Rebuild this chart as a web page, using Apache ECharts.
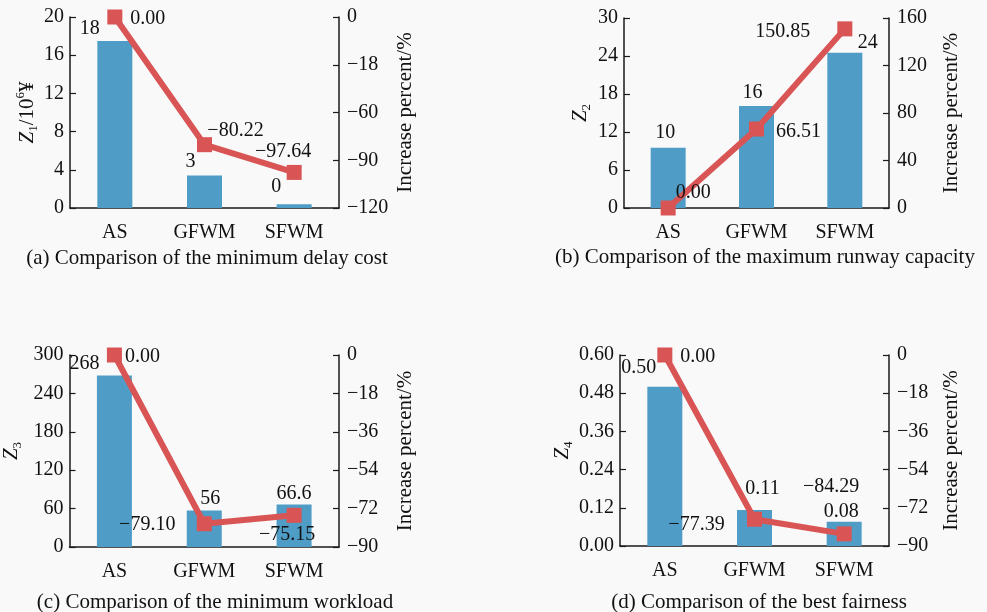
<!DOCTYPE html>
<html>
<head>
<meta charset="utf-8">
<script src="https://cdn.jsdelivr.net/npm/echarts@6/dist/echarts.min.js"></script>
<style>html,body{margin:0;padding:0;background:#f9f9f9;}#c{width:987px;height:612px;}</style>
</head>
<body>
<div id="c"></div>
<script>
// ---------- data ----------
var categories = ['AS', 'GFWM', 'SFWM'];

var barA = [17.5, 3.4, 0.4];
var barLabelsA = ['18', '3', '0'];
var lineA = [0.00, -80.22, -97.64];
var leftTicksA = ['0', '4', '8', '12', '16', '20'];
var rightTicksA = ['−120', '−90', '−60', '−18', '0'];

var barB = [9.5, 16.1, 24.5];
var barLabelsB = ['10', '16', '24'];
var lineB = [0.00, 66.51, 150.85];
var leftTicksB = ['0', '6', '12', '18', '24', '30'];
var rightTicksB = ['0', '40', '80', '120', '160'];

var barC = [268, 57, 66.6];
var barLabelsC = ['268', '56', '66.6'];
var lineC = [0.00, -79.10, -75.15];
var leftTicksC = ['0', '60', '120', '180', '240', '300'];
var rightTicksC = ['−90', '−72', '−54', '−36', '−18', '0'];

var barD = [0.50, 0.113, 0.076];
var barLabelsD = ['0.50', '0.11', '0.08'];
var lineD = [0.00, -77.39, -84.29];
var leftTicksD = ['0.00', '0.12', '0.24', '0.36', '0.48', '0.60'];
var rightTicksD = ['−90', '−72', '−54', '−36', '−18', '0'];

var captions = [
  '(a) Comparison of the minimum delay cost',
  '(b) Comparison of the maximum runway capacity',
  '(c) Comparison of the minimum workload',
  '(d) Comparison of the best fairness'
];

// ---------- styling / layout ----------
var FONT = 'Liberation Serif';
var FS = 20;
var BAR = '#4f9dc6';
var RED = '#d95454';
var AX = '#1a1a1a';

var panels = [
  {grid:{left:70, right:648, top:17, bottom:404}, bar:barA, bl:barLabelsA, line:lineA, lt:leftTicksA, rt:rightTicksA,
   lmin:0, lmax:20, lint:4, rmin:-120, rmax:0, rint:30, lname:'{i|Z}{sub|1}{n|/10}{sup|6}{n|¥}', lgap:26, rgap:56,
   barOff:[[-25,3],[-14,1],[-18,-2]], lineOff:[[33,2],[31,-14],[-11,-21]], cap:[207,258]},
  {grid:{left:624, right:98, top:18, bottom:404}, bar:barB, bl:barLabelsB, line:lineB, lt:leftTicksB, rt:rightTicksB,
   lmin:0, lmax:30, lint:6, rmin:0, rmax:160, rint:40, lname:'{i|Z}{sub|2}', lgap:31, rgap:52,
   barOff:[[-3,0],[-4,2],[23,5]], lineOff:[[25,-15],[42,3],[-62,3]], cap:[765,257]},
  {grid:{left:69, right:648, top:355, bottom:65}, bar:barC, bl:barLabelsC, line:lineC, lt:leftTicksC, rt:rightTicksC,
   lmin:0, lmax:300, lint:60, rmin:-90, rmax:0, rint:18, lname:'{i|Z}{sub|3}', lgap:45, rgap:56,
   barOff:[[-30,3],[6,3],[0,4]], lineOff:[[28,2],[-57,1],[-7,19]], cap:[215,602]},
  {grid:{left:620, right:98, top:355, bottom:66}, bar:barD, bl:barLabelsD, line:lineD, lt:leftTicksD, rt:rightTicksD,
   lmin:0, lmax:0.6, lint:0.12, rmin:-90, rmax:0, rint:18, lname:'{i|Z}{sub|4}', lgap:45, rgap:52,
   barOff:[[-26,-4],[8,-6],[-3,5]], lineOff:[[33,2],[-58,6],[-13,-47]], cap:[759,602]}
];

var nameRich = {
  i:{fontFamily:FONT, fontSize:21, fontStyle:'italic', color:'#111', lineHeight:26, verticalAlign:'middle'},
  n:{fontFamily:FONT, fontSize:21, color:'#111', lineHeight:26, verticalAlign:'middle'},
  sub:{fontFamily:FONT, fontSize:13, color:'#111', lineHeight:26, verticalAlign:'bottom'},
  sup:{fontFamily:FONT, fontSize:13, color:'#111', lineHeight:26, verticalAlign:'top'}
};

var grids = [], xAxes = [], yAxes = [], series = [], graphics = [];
panels.forEach(function(p, k){
  var g = p.grid;
  grids.push({left:g.left, right:g.right, top:g.top, bottom:g.bottom, containLabel:false});
  xAxes.push({
    type:'category', gridIndex:k, data:categories,
    axisLine:{onZero:false, lineStyle:{color:AX, width:1.5}},
    axisTick:{inside:true, length:5, lineStyle:{color:AX, width:1.2}},
    axisLabel:{fontFamily:FONT, fontSize:FS, color:'#111', margin:15}
  });
  var lt = p.lt, rt = p.rt;
  yAxes.push({
    type:'value', gridIndex:k, position:'left', min:p.lmin, max:p.lmax, interval:p.lint,
    name:p.lname, nameLocation:'middle', nameGap:p.lgap, nameRotate:90,
    nameTextStyle:{fontFamily:FONT, fontSize:21, color:'#111', rich:nameRich},
    axisLine:{show:true, lineStyle:{color:AX, width:1.5}},
    axisTick:{show:true, inside:true, length:6, lineStyle:{color:AX, width:1.2}},
    splitLine:{show:false},
    axisLabel:{fontFamily:FONT, fontSize:FS, color:'#111', margin:6,
      formatter:function(v){ var i = Math.round((v - p.lmin)/p.lint); return lt[i]; }}
  });
  yAxes.push({
    type:'value', gridIndex:k, position:'right', min:p.rmin, max:p.rmax, interval:p.rint,
    name:'Increase percent/%', nameLocation:'middle', nameGap:p.rgap, nameRotate:90,
    nameTextStyle:{fontFamily:FONT, fontSize:21, color:'#111'},
    axisLine:{show:true, lineStyle:{color:AX, width:1.5}},
    axisTick:{show:true, inside:true, length:6, lineStyle:{color:AX, width:1.2}},
    splitLine:{show:false},
    axisLabel:{fontFamily:FONT, fontSize:FS, color:'#111', margin:8,
      formatter:function(v){ var i = Math.round((v - p.rmin)/p.rint); return rt[i]; }}
  });
  series.push({
    type:'bar', xAxisIndex:k, yAxisIndex:2*k, barWidth:35,
    itemStyle:{color:BAR},
    data:p.bar.map(function(v, i){
      return {value:v, label:{show:true, position:'top', offset:p.barOff[i], formatter:p.bl[i],
        fontFamily:FONT, fontSize:FS, color:'#111'}};
    }),
    z:2
  });
  series.push({
    type:'line', xAxisIndex:k, yAxisIndex:2*k+1,
    symbol:'rect', symbolSize:15, lineStyle:{color:RED, width:6}, itemStyle:{color:RED},
    data:p.line.map(function(v, i){
      return {value:v, label:{show:true, position:'inside', offset:p.lineOff[i],
        formatter:v.toFixed(2).replace('-', '−'), fontFamily:FONT, fontSize:FS, color:'#111'}};
    }),
    z:3
  });
  graphics.push({
    type:'text', x:p.cap[0], y:p.cap[1],
    style:{text:captions[k], font:'21px "' + FONT + '"', fill:'#111', textAlign:'center', textVerticalAlign:'middle'}
  });
});

var chart = echarts.init(document.getElementById('c'), null, {renderer:'canvas'});
chart.setOption({
  backgroundColor:'#f9f9f9',
  animation:false,
  grid:grids, xAxis:xAxes, yAxis:yAxes, series:series, graphic:graphics
});
</script>
</body>
</html>
